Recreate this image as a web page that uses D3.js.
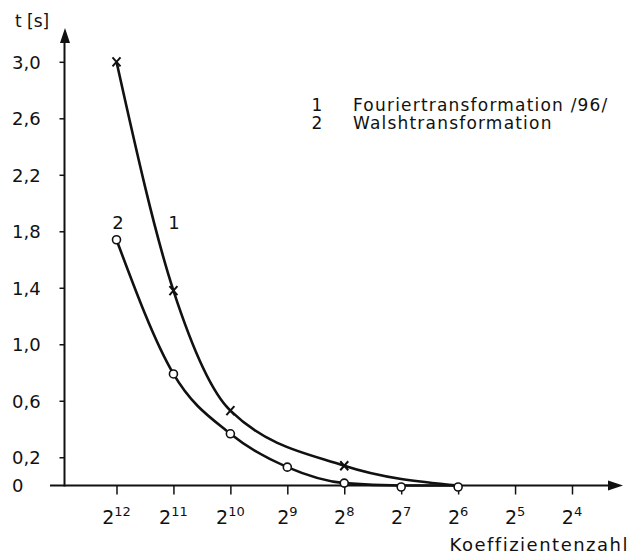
<!DOCTYPE html>
<html>
<head>
<meta charset="utf-8">
<script src="https://cdn.jsdelivr.net/npm/d3@7"></script>
<style>
    body { margin: 0; background: #fff; }
    svg { display: block; }
    text { font-family: "DejaVu Sans", sans-serif; fill: #111; }
</style>
</head>
<body>
<svg id="chart"></svg>
<script>
// Koeffizientenzahl as powers of two (exponent)
const exponents = [12, 11, 10, 9, 8, 7, 6, 5, 4];
const yTicks = [0.2, 0.6, 1.0, 1.4, 1.8, 2.2, 2.6, 3.0];

// Curve 1: Fouriertransformation
const fourierExp = [12, 11, 10, 8, 6];
const fourierT = [3.0, 1.38, 0.53, 0.14, 0.0];
const fourierMarked = [true, true, true, true, false];

// Curve 2: Walshtransformation
const walshExp = [12, 11, 10, 9, 8, 7, 6];
const walshT = [1.74, 0.79, 0.366, 0.13, 0.017, 0.0, 0.0];

const legendItems = ["Fouriertransformation /96/", "Walshtransformation"];

const width = 635;
const height = 555;
const svg = d3.select("#chart").attr("width", width).attr("height", height);

const x = d3.scaleLinear().domain([12, 4]).range([116.5, 572]);
const y = d3.scaleLinear().domain([0, 3]).range([485.5, 61.8]);
const axisX = 64.5;
const axisY = y(0);

const ink = "#111";

// axes lines with arrows
svg.append("line")
    .attr("x1", 50).attr("x2", 612)
    .attr("y1", axisY).attr("y2", axisY)
    .attr("stroke", ink).attr("stroke-width", 2);
svg.append("path")
    .attr("d", `M623,${axisY} L608,${axisY - 5} L608,${axisY + 5} Z`)
    .attr("fill", ink);

svg.append("line")
    .attr("x1", axisX).attr("x2", axisX)
    .attr("y1", axisY + 1).attr("y2", 40)
    .attr("stroke", ink).attr("stroke-width", 2);
svg.append("path")
    .attr("d", `M${axisX + 0.5},28 L${axisX - 4.5},43 L${axisX + 5.5},43 Z`)
    .attr("fill", ink);

// y ticks and labels
const yAxis = svg.append("g")
    .attr("transform", `translate(${axisX},0)`)
    .call(d3.axisLeft(y).tickValues(yTicks).tickSize(5)
        .tickFormat(d => d3.format(".1f")(d).replace(".", ",")));
yAxis.select(".domain").remove();
yAxis.selectAll(".tick line").attr("stroke", ink).attr("stroke-width", 1.5);
yAxis.selectAll(".tick text")
    .attr("x", 12 - axisX).attr("dy", "0.36em")
    .attr("text-anchor", "start")
    .style("font-size", "18px").style("font-family", "DejaVu Sans, sans-serif")
    .attr("fill", ink);

svg.append("text")
    .attr("x", 12).attr("y", axisY + 6.5)
    .style("font-size", "18px")
    .text("0");

svg.append("text")
    .attr("x", 15).attr("y", 27)
    .style("font-size", "17px")
    .text("t [s]");

// x ticks and labels
const xAxis = svg.append("g")
    .attr("transform", `translate(0,${axisY})`)
    .call(d3.axisBottom(x).tickValues(exponents).tickSize(9).tickFormat(""));
xAxis.select(".domain").remove();
xAxis.selectAll(".tick line").attr("stroke", ink).attr("stroke-width", 1.5);

const xLabels = svg.append("g").selectAll("text").data(exponents).join("text")
    .attr("x", d => x(d))
    .attr("y", 524)
    .attr("text-anchor", "middle")
    .style("font-size", "19px");
xLabels.append("tspan").text("2");
xLabels.append("tspan")
    .attr("dy", -8).style("font-size", "13px")
    .text(d => d);

svg.append("text")
    .attr("x", 629).attr("y", 551)
    .attr("text-anchor", "end")
    .style("font-size", "18px").style("letter-spacing", "1.5px")
    .text("Koeffizientenzahl");

// curves
const line = d3.line()
    .x(d => x(d[0]))
    .y(d => y(d[1]))
    .curve(d3.curveMonotoneX);

const fourier = fourierExp.map((e, i) => [e, fourierT[i], fourierMarked[i]]);
const walsh = walshExp.map((e, i) => [e, walshT[i]]);

svg.append("path")
    .datum(fourier)
    .attr("d", line)
    .attr("fill", "none").attr("stroke", ink).attr("stroke-width", 2.6);

svg.append("path")
    .datum(walsh)
    .attr("d", line)
    .attr("fill", "none").attr("stroke", ink).attr("stroke-width", 2.6);

// cross markers
svg.append("g").selectAll("path").data(fourier.filter(d => d[2])).join("path")
    .attr("d", d => {
        const cx = x(d[0]), cy = y(d[1]);
        return `M${cx - 4},${cy - 4.5}L${cx + 4},${cy + 4.5}M${cx + 4},${cy - 4.5}L${cx - 4},${cy + 4.5}`;
    })
    .attr("stroke", ink).attr("stroke-width", 2);

// circle markers
svg.append("g").selectAll("circle").data(walsh).join("circle")
    .attr("cx", d => x(d[0]))
    .attr("cy", d => y(d[1]) + (d[1] === 0 ? 1.5 : 0))
    .attr("r", 4)
    .attr("fill", "#fff").attr("stroke", ink).attr("stroke-width", 1.6);

// curve numbers
svg.append("text")
    .attr("x", x(12) + 1.5).attr("y", 229)
    .attr("text-anchor", "middle")
    .style("font-size", "18px")
    .text("2");
svg.append("text")
    .attr("x", x(11) + 0.5).attr("y", 229)
    .attr("text-anchor", "middle")
    .style("font-size", "18px")
    .text("1");

// legend
const legend = svg.append("g").selectAll("g").data(legendItems).join("g")
    .attr("transform", (d, i) => `translate(0,${110.5 + i * 18.5})`);
legend.append("text")
    .attr("x", 317).attr("text-anchor", "middle")
    .style("font-size", "17px")
    .text((d, i) => i + 1);
legend.append("text")
    .attr("x", 353)
    .style("font-size", "17px").style("letter-spacing", "1.2px")
    .text(d => d);
</script>
</body>
</html>
